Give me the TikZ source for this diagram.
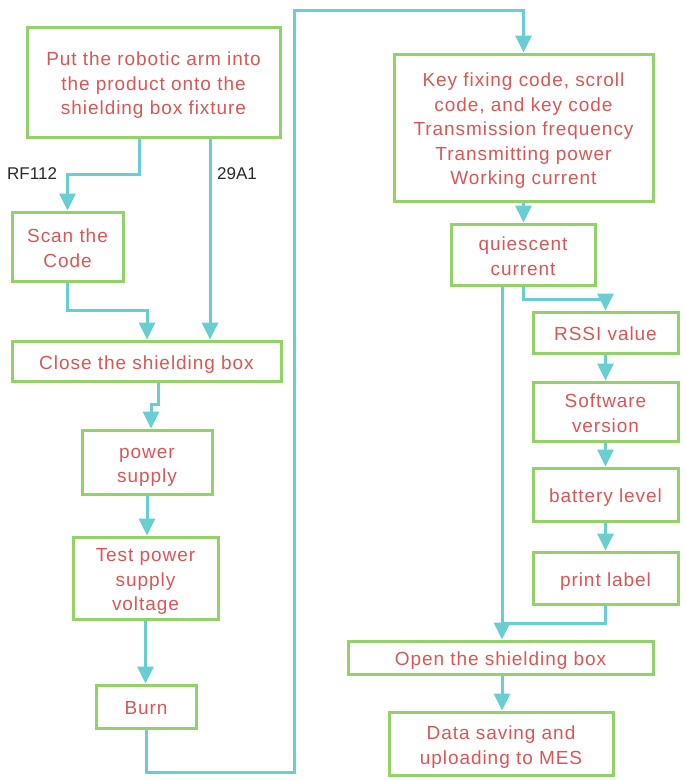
\documentclass[tikz,border=0pt]{standalone}
\usepackage{fontspec}
\setmainfont{Liberation Sans}[LetterSpace=5]
\newfontfamily\lblfont{Liberation Sans}
\usetikzlibrary{arrows.meta,calc}
\definecolor{boxgreen}{RGB}{146,210,104}
\definecolor{flowteal}{RGB}{104,206,210}
\definecolor{txtred}{RGB}{218,86,86}
\definecolor{lbl}{RGB}{40,40,40}
\newcommand\tx[1]{\raisebox{-3.5pt}[\height][\depth]{\begin{tabular}{@{}c@{}}#1\end{tabular}}}
\tikzset{
  stepbox/.style={draw=boxgreen, line width=3pt, inner sep=0pt, align=center,
    text=txtred, font=\fontsize{19}{24.5}\selectfont},
  conn/.style={draw=flowteal, line width=3pt},
  arr/.style={conn, -{Triangle[length=17pt,width=16pt]}},
  lab/.style={text=lbl, font=\lblfont\fontsize{17}{22}\selectfont, inner sep=0pt}
}
\begin{document}
\begin{tikzpicture}[x=1pt,y=-1pt]
\useasboundingbox (0,0) rectangle (686,780);
% left column
\node[stepbox, minimum width=253pt, minimum height=110pt] (n1) at (153.5,82) {\tx{Put the robotic arm into\\the product onto the\\shielding box fixture}};
\node[stepbox, minimum width=111pt, minimum height=69pt] (scan) at (67.5,246.5) {\tx{Scan the\\Code}};
\node[stepbox, minimum width=269pt, minimum height=40pt] (close) at (146.5,361) {\tx{Close the shielding box}};
\node[stepbox, minimum width=130pt, minimum height=64pt] (power) at (147,462) {\tx{power\\supply}};
\node[stepbox, minimum width=145pt, minimum height=82pt] (test) at (145.5,578) {\tx{Test power\\supply\\voltage}};
\node[stepbox, minimum width=100pt, minimum height=43pt] (burn) at (146,706.5) {\tx{Burn}};
% right column
\node[stepbox, minimum width=259pt, minimum height=147pt] (key) at (523.5,127.5) {\tx{Key fixing code, scroll\\code, and key code\\Transmission frequency\\Transmitting power\\Working current}};
\node[stepbox, minimum width=144pt, minimum height=61pt] (quies) at (523,254.5) {\tx{quiescent\\current}};
\node[stepbox, minimum width=145pt, minimum height=41pt] (rssi) at (605.5,332.5) {\tx{RSSI value}};
\node[stepbox, minimum width=145pt, minimum height=59pt] (soft) at (605.5,411.5) {\tx{Software\\version}};
\node[stepbox, minimum width=145pt, minimum height=53pt] (batt) at (605.5,494.5) {\tx{battery level}};
\node[stepbox, minimum width=145pt, minimum height=52pt] (print) at (605.5,578) {\tx{print label}};
\node[stepbox, minimum width=305pt, minimum height=33pt] (open) at (500.5,657.5) {\tx{Open the shielding box}};
\node[stepbox, minimum width=224pt, minimum height=63pt] (data) at (501,743.5) {\tx{Data saving and\\uploading to MES}};
% labels
\node[lab, anchor=west] (rf) at (7,174) {RF112};
\node[lab, anchor=west] (a29) at (217,174) {29A1};
% helper coordinates
\coordinate (c1) at (139,174);
\coordinate (c2) at (210,0);
\coordinate (c3) at (147,310);
\coordinate (c4a) at (158,404);
\coordinate (c4b) at (151,404);
\coordinate (c7) at (294,772);
\coordinate (c8) at (294,10);
\coordinate (c9) at (502,0);
\coordinate (c10) at (523,299);
\coordinate (c12) at (502,623);
% connectors
\draw[arr] (c1 |- n1.south) -- (c1) -| (scan.north);
\draw[arr] (c2 |- n1.south) -- (c2 |- close.north);
\draw[arr] (scan.south) |- (c3) -- (c3 |- close.north);
\draw[arr] (c4a |- close.south) -- (c4a) -- (c4b) -- (c4b |- power.north);
\draw[arr] (power.south) -- (power.south |- test.north);
\draw[arr] (test.south) -- (test.south |- burn.north);
\draw[arr] (burn.south) |- (c7) -- (c8) -| (key.north);
\draw[arr] (key.south) -- (key.south |- quies.north);
\draw[arr] (c9 |- quies.south) -- (c9 |- open.north);
\draw[arr] (quies.south) -- (c10) -| (rssi.north);
\draw[arr] (rssi.south) -- (soft.north);
\draw[arr] (soft.south) -- (batt.north);
\draw[arr] (batt.south) -- (print.north);
\draw[conn] (print.south) |- (c12);
\draw[arr] (open.south -| c9) -- (data.north -| c9);
\end{tikzpicture}
\end{document}
